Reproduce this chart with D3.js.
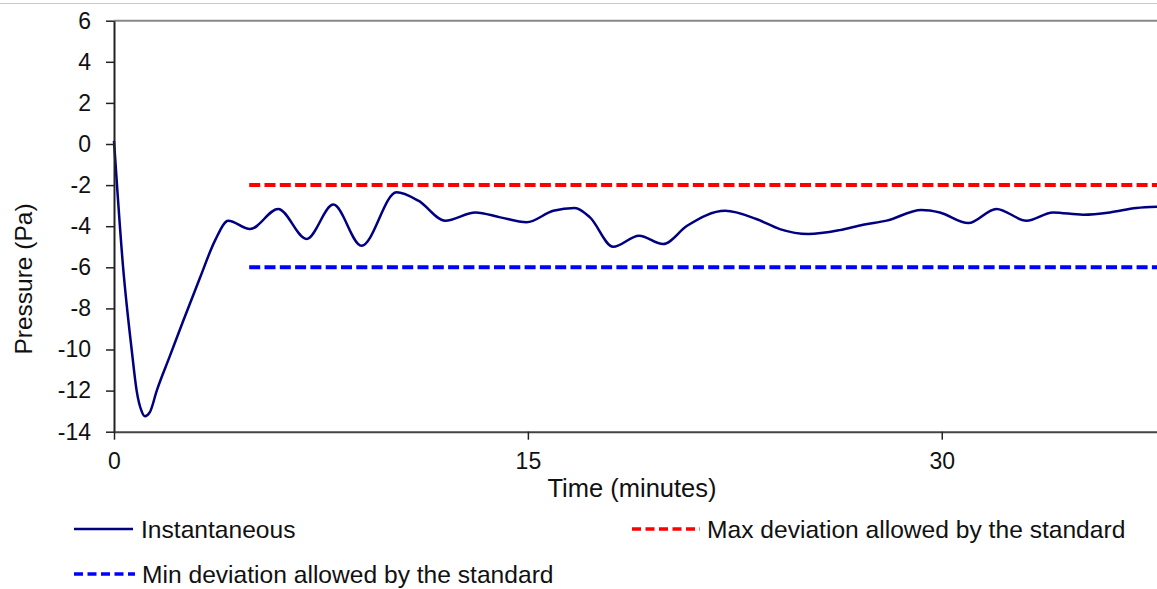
<!DOCTYPE html>
<html>
<head>
<meta charset="utf-8">
<script src="https://cdn.jsdelivr.net/npm/d3@7"></script>
<style>
  body { margin: 0; background: #fff; }
  svg { display: block; font-family: "Liberation Sans", Arial, sans-serif; }
</style>
</head>
<body>
<svg id="chart"></svg>
<script>
/* data */
var times = [0, 0.33, 0.64, 0.82, 1.0, 1.12, 1.3, 1.55, 2.03, 2.51, 3.12, 3.66, 4.14, 4.93, 5.95, 6.98, 7.95, 8.97,
  10.24, 11.03, 12.0, 13.1, 14.0, 14.95, 15.92, 16.7, 17.25, 18.09, 19.03, 19.9, 20.77, 22.15, 23.28, 24.13,
  25.16, 26.3, 27.15, 28.0, 29.26, 29.93, 30.96, 31.98, 33.07, 34.03, 35.12, 36.09, 37.05, 37.8];
var pressure = [0.15, -6.0, -10.0, -12.0, -13.0, -13.25, -13.05, -12.0, -10.3, -8.6, -6.5, -4.7, -3.73, -4.14, -3.16, -4.62, -2.95, -4.95,
  -2.35, -2.76, -3.73, -3.33, -3.57, -3.81, -3.25, -3.11, -3.57, -5.0, -4.46, -4.87, -3.98, -3.25, -3.65, -4.14,
  -4.38, -4.19, -3.93, -3.73, -3.21, -3.33, -3.85, -3.16, -3.73, -3.33, -3.44, -3.33, -3.11, -3.05];
var maxDev = -2;
var minDev = -6;
var limitStart = 4.9;
var xTicks = [0, 15, 30];
var yTicks = [-14, -12, -10, -8, -6, -4, -2, 0, 2, 4, 6];
var legendLabels = ["Instantaneous", "Max deviation allowed by the standard", "Min deviation allowed by the standard"];

var width = 1157;
var height = 589;
var plotLeft = 114, plotRight = 1157, plotTop = 20.7, plotBottom = 431.7;

var svg = d3.select('#chart').attr('width', width).attr('height', height);

var x = d3.scaleLinear().domain([0, 37.8]).range([plotLeft, plotRight]);
var y = d3.scaleLinear().domain([-14, 6]).range([plotBottom, plotTop]);

/* plain hyphen for negatives, like the original */
function plain(d){ return String(d); }

/* page border at the very top */
svg.append('line')
  .attr('x1', 0).attr('x2', width).attr('y1', 3.5).attr('y2', 3.5)
  .attr('stroke', '#c8c8c8').attr('stroke-width', 1);

/* top frame line */
svg.append('line')
  .attr('x1', plotLeft).attr('x2', plotRight).attr('y1', plotTop).attr('y2', plotTop)
  .attr('stroke', '#888').attr('stroke-width', 2);

/* limits */
svg.append('line')
  .attr('x1', x(limitStart)).attr('x2', plotRight).attr('y1', y(maxDev)).attr('y2', y(maxDev))
  .attr('stroke', '#ff0000').attr('stroke-width', 4).attr('stroke-dasharray', '11,4.3');
svg.append('line')
  .attr('x1', x(limitStart)).attr('x2', plotRight).attr('y1', y(minDev)).attr('y2', y(minDev))
  .attr('stroke', '#0000ff').attr('stroke-width', 4).attr('stroke-dasharray', '11,4.3');

/* instantaneous pressure */
var line = d3.line()
  .x(function(d, i){ return x(times[i]); })
  .y(function(d){ return y(d); })
  .curve(d3.curveMonotoneX);

svg.append('path')
  .datum(pressure)
  .attr('d', line)
  .attr('fill', 'none')
  .attr('stroke', '#000080')
  .attr('stroke-width', 2.5);

/* axes */
var yAxis = svg.append('g')
  .attr('transform', 'translate(' + plotLeft + ',0)')
  .call(d3.axisLeft(y).tickValues(yTicks).tickFormat(plain).tickSize(8).tickPadding(15).tickSizeOuter(0));
yAxis.select('.domain').attr('stroke', '#222').attr('stroke-width', 2);
yAxis.selectAll('.tick line').attr('stroke', '#222').attr('stroke-width', 1.5);
yAxis.selectAll('text').attr('font-size', 23).attr('fill', '#111')
  .attr('font-family', '"Liberation Sans", Arial, sans-serif');

var xAxis = svg.append('g')
  .attr('transform', 'translate(0,' + plotBottom + ')')
  .call(d3.axisBottom(x).tickValues(xTicks).tickFormat(plain).tickSize(8).tickPadding(13).tickSizeOuter(0));
xAxis.select('.domain').attr('stroke', '#444').attr('stroke-width', 2);
xAxis.selectAll('.tick line').attr('stroke', '#222').attr('stroke-width', 1.5);
xAxis.selectAll('text').attr('font-size', 23).attr('fill', '#111')
  .attr('font-family', '"Liberation Sans", Arial, sans-serif');

/* axis titles */
svg.append('text')
  .attr('x', 632).attr('y', 497)
  .attr('text-anchor', 'middle')
  .attr('font-size', 25.5).attr('fill', '#111')
  .text('Time (minutes)');

svg.append('text')
  .attr('transform', 'translate(32,279) rotate(-90)')
  .attr('text-anchor', 'middle')
  .attr('font-size', 24.5).attr('fill', '#111')
  .text('Pressure (Pa)');

/* legend */
var legend = [
  { x1: 74, x2: 133, tx: 141, y: 529, color: '#000080', dash: null, w: 2.5 },
  { x1: 632, x2: 700, tx: 707, y: 529, color: '#ff0000', dash: '9,4.5', w: 3.5 },
  { x1: 74, x2: 135, tx: 142, y: 574, color: '#0000ff', dash: '9,4.5', w: 3.5 }
];
legend.forEach(function(d, i){
  svg.append('line')
    .attr('x1', d.x1).attr('x2', d.x2).attr('y1', d.y).attr('y2', d.y)
    .attr('stroke', d.color).attr('stroke-width', d.w)
    .attr('stroke-dasharray', d.dash);
  svg.append('text')
    .attr('x', d.tx).attr('y', d.y + 8.5)
    .attr('font-size', 24.6).attr('fill', '#111')
    .text(legendLabels[i]);
});
</script>
</body>
</html>
